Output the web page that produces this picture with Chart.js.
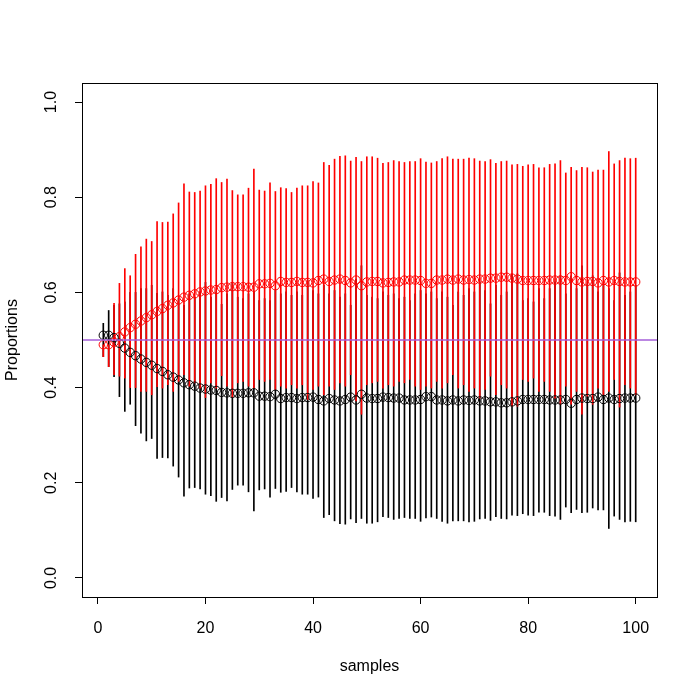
<!DOCTYPE html>
<html>
<head>
<meta charset="utf-8">
<script src="https://cdn.jsdelivr.net/npm/chart.js@4.4.1/dist/chart.umd.min.js"></script>
<style>
  html, body { margin: 0; padding: 0; background: #fff; }
</style>
</head>
<body>
<canvas id="chart" width="700" height="700"></canvas>
<script>
// sample index 1..100
const samples = Array.from({ length: 100 }, (_, k) => k + 1);

const redPoint = [
  0.490, 0.490, 0.495, 0.507, 0.517, 0.526, 0.533, 0.540, 0.547, 0.553,
  0.560, 0.566, 0.573, 0.578, 0.584, 0.590, 0.594, 0.597, 0.601, 0.603,
  0.605, 0.606, 0.610, 0.611, 0.612, 0.612, 0.612, 0.611, 0.611, 0.618,
  0.618, 0.619, 0.614, 0.623, 0.621, 0.621, 0.623, 0.621, 0.621, 0.620,
  0.625, 0.628, 0.623, 0.626, 0.628, 0.625, 0.620, 0.626, 0.614, 0.622,
  0.623, 0.623, 0.620, 0.621, 0.622, 0.622, 0.626, 0.626, 0.626, 0.625,
  0.619, 0.619, 0.626, 0.626, 0.628, 0.626, 0.628, 0.626, 0.627, 0.626,
  0.628, 0.628, 0.630, 0.630, 0.632, 0.632, 0.630, 0.628, 0.625, 0.625,
  0.625, 0.625, 0.625, 0.626, 0.626, 0.626, 0.625, 0.633, 0.625, 0.622,
  0.623, 0.623, 0.620, 0.625, 0.622, 0.625, 0.623, 0.622, 0.622, 0.622
];
const redHigh = [
  0.490, 0.490, 0.577, 0.619, 0.650, 0.635, 0.680, 0.696, 0.712, 0.707,
  0.749, 0.747, 0.748, 0.765, 0.788, 0.828, 0.811, 0.810, 0.813, 0.824,
  0.827, 0.839, 0.831, 0.838, 0.814, 0.805, 0.805, 0.819, 0.859, 0.815,
  0.813, 0.830, 0.812, 0.820, 0.818, 0.810, 0.819, 0.824, 0.824, 0.833,
  0.830, 0.873, 0.867, 0.880, 0.886, 0.887, 0.876, 0.884, 0.875, 0.885,
  0.885, 0.882, 0.871, 0.873, 0.877, 0.875, 0.873, 0.875, 0.875, 0.881,
  0.874, 0.872, 0.875, 0.881, 0.885, 0.880, 0.880, 0.880, 0.882, 0.881,
  0.876, 0.875, 0.879, 0.871, 0.875, 0.876, 0.868, 0.869, 0.865, 0.868,
  0.869, 0.862, 0.862, 0.869, 0.870, 0.877, 0.851, 0.863, 0.856, 0.863,
  0.862, 0.853, 0.857, 0.857, 0.896, 0.870, 0.877, 0.882, 0.881, 0.882
];
const redLow = [
  0.465, 0.444, 0.427, 0.424, 0.420, 0.400, 0.400, 0.392, 0.392, 0.385,
  0.402, 0.399, 0.406, 0.392, 0.413, 0.427, 0.403, 0.410, 0.399, 0.379,
  0.410, 0.399, 0.425, 0.403, 0.379, 0.410, 0.413, 0.403, 0.399, 0.417,
  0.413, 0.417, 0.396, 0.403, 0.399, 0.406, 0.399, 0.406, 0.375, 0.396,
  0.403, 0.385, 0.403, 0.396, 0.410, 0.403, 0.427, 0.372, 0.344, 0.406,
  0.410, 0.413, 0.399, 0.406, 0.403, 0.413, 0.410, 0.417, 0.403, 0.396,
  0.403, 0.399, 0.413, 0.399, 0.410, 0.427, 0.399, 0.406, 0.392, 0.399,
  0.378, 0.396, 0.424, 0.385, 0.406, 0.399, 0.361, 0.361, 0.417, 0.413,
  0.420, 0.392, 0.413, 0.392, 0.378, 0.365, 0.403, 0.365, 0.392, 0.344,
  0.382, 0.365, 0.399, 0.385, 0.392, 0.417, 0.359, 0.406, 0.399, 0.385
];

const blackPoint = [
  0.510, 0.510, 0.505, 0.493, 0.483, 0.474, 0.467, 0.460, 0.453, 0.447,
  0.440, 0.434, 0.427, 0.422, 0.416, 0.410, 0.406, 0.403, 0.399, 0.397,
  0.395, 0.394, 0.390, 0.389, 0.388, 0.388, 0.388, 0.389, 0.389, 0.382,
  0.382, 0.381, 0.386, 0.377, 0.379, 0.379, 0.377, 0.379, 0.379, 0.380,
  0.375, 0.372, 0.377, 0.374, 0.372, 0.375, 0.380, 0.374, 0.386, 0.378,
  0.377, 0.377, 0.380, 0.379, 0.378, 0.378, 0.374, 0.374, 0.374, 0.375,
  0.381, 0.381, 0.374, 0.374, 0.372, 0.374, 0.372, 0.374, 0.373, 0.374,
  0.372, 0.372, 0.370, 0.370, 0.368, 0.368, 0.370, 0.372, 0.375, 0.375,
  0.375, 0.375, 0.375, 0.374, 0.374, 0.374, 0.375, 0.367, 0.375, 0.378,
  0.377, 0.377, 0.380, 0.375, 0.378, 0.375, 0.377, 0.378, 0.378, 0.378
];
const blackHigh = [
  0.535, 0.562, 0.573, 0.576, 0.580, 0.600, 0.600, 0.608, 0.608, 0.615,
  0.598, 0.601, 0.594, 0.608, 0.587, 0.573, 0.597, 0.590, 0.601, 0.621,
  0.590, 0.601, 0.575, 0.597, 0.621, 0.590, 0.587, 0.597, 0.601, 0.583,
  0.587, 0.583, 0.604, 0.597, 0.601, 0.594, 0.601, 0.594, 0.625, 0.604,
  0.597, 0.615, 0.597, 0.604, 0.590, 0.597, 0.573, 0.628, 0.656, 0.594,
  0.590, 0.587, 0.601, 0.594, 0.597, 0.587, 0.590, 0.583, 0.597, 0.604,
  0.597, 0.601, 0.587, 0.601, 0.590, 0.573, 0.601, 0.594, 0.608, 0.601,
  0.622, 0.604, 0.576, 0.615, 0.594, 0.601, 0.639, 0.639, 0.583, 0.587,
  0.580, 0.608, 0.587, 0.608, 0.622, 0.635, 0.597, 0.635, 0.608, 0.656,
  0.618, 0.635, 0.601, 0.615, 0.608, 0.583, 0.641, 0.594, 0.601, 0.615
];
const blackLow = [
  0.465, 0.444, 0.423, 0.381, 0.350, 0.365, 0.320, 0.304, 0.288, 0.293,
  0.251, 0.253, 0.252, 0.235, 0.212, 0.172, 0.189, 0.190, 0.187, 0.176,
  0.173, 0.161, 0.169, 0.162, 0.186, 0.195, 0.195, 0.181, 0.141, 0.185,
  0.187, 0.170, 0.188, 0.180, 0.182, 0.190, 0.181, 0.176, 0.176, 0.167,
  0.170, 0.127, 0.133, 0.120, 0.114, 0.113, 0.124, 0.116, 0.125, 0.115,
  0.115, 0.118, 0.129, 0.127, 0.123, 0.125, 0.127, 0.125, 0.125, 0.119,
  0.126, 0.128, 0.125, 0.119, 0.115, 0.120, 0.120, 0.120, 0.118, 0.119,
  0.124, 0.125, 0.121, 0.129, 0.125, 0.124, 0.132, 0.131, 0.135, 0.132,
  0.131, 0.138, 0.138, 0.131, 0.130, 0.123, 0.149, 0.137, 0.144, 0.137,
  0.138, 0.147, 0.143, 0.143, 0.104, 0.130, 0.123, 0.118, 0.119, 0.118
];

const xTicks = [0, 20, 40, 60, 80, 100];
const yTicks = [0, 0.2, 0.4, 0.6, 0.8, 1.0];
const refLine = 0.5;

const FONT = "'Liberation Sans', Arial, Helvetica, sans-serif";

function ranges(lo, hi) {
  return samples.map((s, k) => ({ x: s, y: [lo[k], hi[k]] }));
}
function points(v) {
  return samples.map((s, k) => ({ x: s, y: v[k] }));
}

// R-like frame, abline and rotated labels
const rDecor = {
  id: 'rDecor',
  afterDatasetsDraw(chart) {
    const { ctx, chartArea: a, scales } = chart;
    ctx.save();
    const yRef = scales.y.getPixelForValue(refLine);
    ctx.strokeStyle = '#a45fd8';
    ctx.lineWidth = 1.3;
    ctx.beginPath();
    ctx.moveTo(a.left, yRef);
    ctx.lineTo(a.right, yRef);
    ctx.stroke();

    ctx.strokeStyle = '#000';
    ctx.lineWidth = 1;
    ctx.strokeRect(a.left + 0.5, a.top + 0.5, a.right - a.left, a.bottom - a.top);

    ctx.fillStyle = '#000';
    ctx.font = '16px ' + FONT;
    ctx.textAlign = 'center';
    ctx.textBaseline = 'middle';
    yTicks.forEach(v => {
      const py = scales.y.getPixelForValue(v);
      ctx.save();
      ctx.translate(52, py);
      ctx.rotate(-Math.PI / 2);
      ctx.fillText(v.toFixed(1), 0, 0);
      ctx.restore();
    });
    ctx.save();
    ctx.translate(13, (a.top + a.bottom) / 2);
    ctx.rotate(-Math.PI / 2);
    ctx.fillText('Proportions', 0, 0);
    ctx.restore();
    ctx.fillText('samples', (a.left + a.right) / 2, 667);
    ctx.restore();
  }
};

const tickGrid = {
  display: true,
  drawOnChartArea: false,
  drawTicks: true,
  tickLength: 7,
  tickColor: '#000',
  tickWidth: 1,
  offset: false
};

new Chart(document.getElementById('chart'), {
  type: 'scatter',
  data: {
    datasets: [
      {
        type: 'scatter',
        data: points(redPoint),
        order: 0,
        showLine: false,
        pointRadius: 4.2,
        pointBorderWidth: 1,
        pointBorderColor: '#ff0000',
        pointBackgroundColor: 'rgba(0,0,0,0)'
      },
      {
        type: 'scatter',
        data: points(blackPoint),
        order: 1,
        showLine: false,
        pointRadius: 4.2,
        pointBorderWidth: 1,
        pointBorderColor: '#000000',
        pointBackgroundColor: 'rgba(0,0,0,0)'
      },
      {
        type: 'bar',
        data: ranges(redLow, redHigh),
        order: 2,
        grouped: false,
        barThickness: 1,
        borderWidth: 0,
        backgroundColor: '#ff0000'
      },
      {
        type: 'bar',
        data: ranges(blackLow, blackHigh),
        order: 3,
        grouped: false,
        barThickness: 1,
        borderWidth: 0,
        backgroundColor: '#000000'
      }
    ]
  },
  options: {
    responsive: false,
    animation: false,
    devicePixelRatio: 1,
    layout: { padding: { top: 83, right: 43, left: 0, bottom: 0 } },
    plugins: { legend: { display: false }, tooltip: { enabled: false } },
    scales: {
      x: {
        type: 'linear',
        min: -2.96,
        max: 103.96,
        offset: false,
        afterBuildTicks: s => { s.ticks = xTicks.map(v => ({ value: v })); },
        afterFit: s => { s.height = 103; },
        grid: tickGrid,
        border: { display: false },
        ticks: {
          color: '#000',
          font: { family: FONT, size: 16 },
          padding: 15,
          maxRotation: 0,
          autoSkip: false,
          callback: v => String(v)
        }
      },
      y: {
        type: 'linear',
        min: -0.04,
        max: 1.04,
        offset: false,
        afterBuildTicks: s => { s.ticks = yTicks.map(v => ({ value: v })); },
        afterFit: s => { s.width = 82; },
        grid: tickGrid,
        border: { display: false },
        ticks: { display: false }
      }
    }
  },
  plugins: [rDecor]
});
</script>
</body>
</html>
